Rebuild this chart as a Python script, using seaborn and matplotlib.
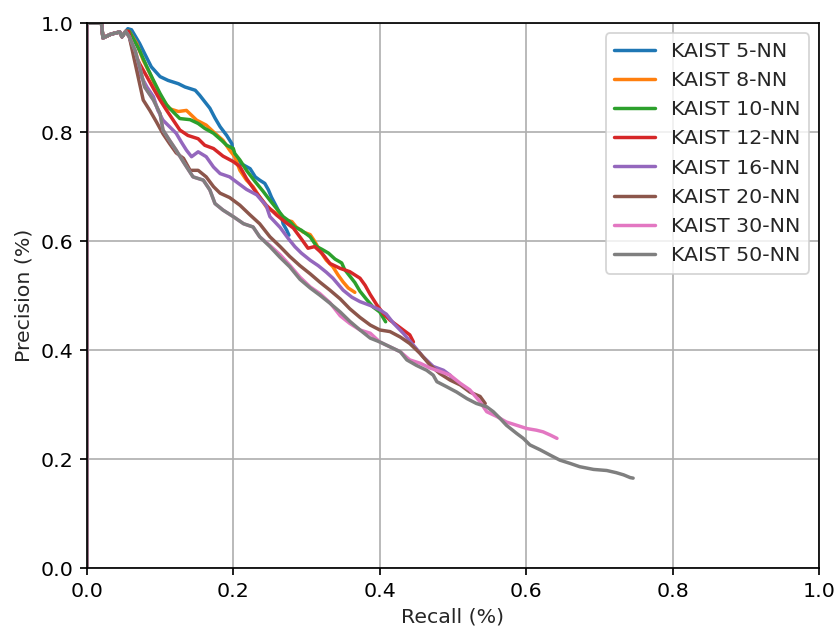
import numpy as np
import pandas as pd
import matplotlib
matplotlib.use("Agg")
import matplotlib.pyplot as plt
import seaborn as sns

labels = ["KAIST 5-NN", "KAIST 8-NN", "KAIST 10-NN", "KAIST 12-NN",
          "KAIST 16-NN", "KAIST 20-NN", "KAIST 30-NN", "KAIST 50-NN"]

start_r = [0.0, 0.0, 0.02, 0.022, 0.033, 0.045, 0.048, 0.053]
start_p = [0.0, 1.0, 1.0, 0.973, 0.980, 0.984, 0.975, 0.985]

r5 = [0.056, 0.061, 0.072, 0.079, 0.088, 0.100, 0.111, 0.125, 0.134, 0.148, 0.154, 0.161, 0.168, 0.175, 0.182,
      0.191, 0.198, 0.200, 0.204, 0.211, 0.223, 0.230, 0.236, 0.243, 0.248, 0.252, 0.259, 0.266, 0.268, 0.273, 0.276]
p5 = [0.990, 0.988, 0.963, 0.944, 0.920, 0.902, 0.895, 0.889, 0.883, 0.877, 0.868, 0.856, 0.844, 0.826, 0.810,
      0.794, 0.779, 0.761, 0.755, 0.742, 0.733, 0.718, 0.712, 0.706, 0.694, 0.681, 0.663, 0.645, 0.632, 0.620, 0.611]

r8 = [0.058, 0.068, 0.077, 0.086, 0.095, 0.104, 0.113, 0.125, 0.136, 0.143, 0.150, 0.163, 0.175, 0.186, 0.195,
      0.202, 0.209, 0.218, 0.227, 0.236, 0.245, 0.259, 0.270, 0.280, 0.286, 0.295, 0.305, 0.311, 0.318, 0.327,
      0.336, 0.343, 0.350, 0.357, 0.366]
p8 = [0.985, 0.963, 0.932, 0.908, 0.880, 0.859, 0.843, 0.838, 0.840, 0.831, 0.822, 0.813, 0.798, 0.785, 0.767,
      0.755, 0.730, 0.712, 0.700, 0.681, 0.663, 0.651, 0.639, 0.636, 0.626, 0.617, 0.612, 0.600, 0.583, 0.565,
      0.553, 0.538, 0.525, 0.514, 0.506]

r10 = [0.058, 0.072, 0.082, 0.091, 0.100, 0.109, 0.118, 0.127, 0.141, 0.152, 0.161, 0.173, 0.184, 0.191, 0.200,
       0.202, 0.209, 0.218, 0.230, 0.241, 0.250, 0.259, 0.268, 0.277, 0.284, 0.293, 0.305, 0.314, 0.321, 0.330,
       0.339, 0.348, 0.352, 0.359, 0.366, 0.373, 0.382, 0.391, 0.400, 0.408]
p10 = [0.985, 0.950, 0.920, 0.895, 0.871, 0.850, 0.837, 0.825, 0.823, 0.816, 0.807, 0.798, 0.785, 0.776, 0.770,
       0.761, 0.749, 0.730, 0.709, 0.691, 0.675, 0.660, 0.645, 0.636, 0.626, 0.620, 0.608, 0.590, 0.585, 0.578,
       0.567, 0.560, 0.548, 0.536, 0.524, 0.508, 0.493, 0.479, 0.470, 0.452]

r12 = [0.057, 0.063, 0.072, 0.082, 0.091, 0.100, 0.109, 0.118, 0.127, 0.138, 0.152, 0.161, 0.173, 0.186, 0.200,
       0.209, 0.218, 0.232, 0.245, 0.259, 0.270, 0.282, 0.293, 0.302, 0.311, 0.321, 0.332, 0.346, 0.359, 0.366,
       0.373, 0.380, 0.387, 0.396, 0.405, 0.414, 0.423, 0.432, 0.441, 0.446]
p12 = [0.985, 0.950, 0.926, 0.902, 0.880, 0.859, 0.840, 0.822, 0.804, 0.794, 0.788, 0.776, 0.770, 0.756, 0.746,
       0.737, 0.715, 0.688, 0.666, 0.648, 0.636, 0.624, 0.604, 0.587, 0.590, 0.578, 0.559, 0.550, 0.544, 0.538,
       0.532, 0.519, 0.502, 0.483, 0.467, 0.455, 0.446, 0.437, 0.428, 0.415]

r16 = [0.058, 0.072, 0.082, 0.091, 0.097, 0.104, 0.113, 0.122, 0.129, 0.136, 0.143, 0.152, 0.163, 0.173, 0.182,
       0.195, 0.207, 0.218, 0.232, 0.245, 0.250, 0.264, 0.275, 0.284, 0.293, 0.305, 0.316, 0.327, 0.336, 0.350,
       0.362, 0.373, 0.387, 0.400, 0.409, 0.419, 0.432, 0.446, 0.459, 0.473, 0.487, 0.496, 0.500]
p16 = [0.975, 0.908, 0.883, 0.865, 0.840, 0.822, 0.810, 0.798, 0.782, 0.767, 0.755, 0.764, 0.755, 0.736, 0.724,
       0.718, 0.706, 0.695, 0.685, 0.665, 0.645, 0.625, 0.605, 0.590, 0.578, 0.565, 0.555, 0.543, 0.532, 0.510,
       0.497, 0.489, 0.482, 0.474, 0.466, 0.449, 0.431, 0.409, 0.388, 0.370, 0.363, 0.354, 0.345]

r20 = [0.058, 0.077, 0.086, 0.095, 0.104, 0.113, 0.122, 0.132, 0.141, 0.152, 0.163, 0.173, 0.182, 0.195, 0.209,
       0.223, 0.236, 0.250, 0.264, 0.277, 0.291, 0.305, 0.318, 0.332, 0.346, 0.359, 0.373, 0.387, 0.400, 0.414,
       0.428, 0.441, 0.455, 0.469, 0.482, 0.496, 0.510, 0.523, 0.537, 0.544]
p20 = [0.975, 0.859, 0.840, 0.819, 0.797, 0.779, 0.762, 0.752, 0.730, 0.730, 0.718, 0.700, 0.688, 0.680, 0.666,
       0.648, 0.632, 0.608, 0.590, 0.572, 0.555, 0.540, 0.525, 0.510, 0.494, 0.476, 0.460, 0.446, 0.437, 0.434,
       0.424, 0.412, 0.394, 0.372, 0.357, 0.345, 0.336, 0.323, 0.315, 0.302]

r30 = [0.058, 0.066, 0.072, 0.079, 0.091, 0.100, 0.104, 0.113, 0.122, 0.132, 0.145, 0.159, 0.168, 0.175, 0.186,
       0.200, 0.214, 0.227, 0.236, 0.250, 0.264, 0.277, 0.291, 0.305, 0.318, 0.332, 0.346, 0.359, 0.373, 0.387,
       0.400, 0.414, 0.428, 0.441, 0.455, 0.469, 0.482, 0.496, 0.510, 0.523, 0.537, 0.546, 0.560, 0.573, 0.587,
       0.601, 0.614, 0.623, 0.633, 0.642]
p30 = [0.975, 0.950, 0.920, 0.883, 0.859, 0.834, 0.804, 0.785, 0.767, 0.745, 0.718, 0.712, 0.694, 0.669, 0.657,
       0.645, 0.632, 0.626, 0.608, 0.592, 0.575, 0.556, 0.534, 0.516, 0.504, 0.487, 0.463, 0.449, 0.437, 0.431,
       0.415, 0.406, 0.397, 0.382, 0.376, 0.367, 0.361, 0.354, 0.339, 0.327, 0.305, 0.287, 0.278, 0.268, 0.262,
       0.256, 0.253, 0.250, 0.244, 0.238]

r50 = [0.058, 0.066, 0.072, 0.079, 0.091, 0.100, 0.104, 0.113, 0.122, 0.132, 0.145, 0.159, 0.168, 0.175, 0.186,
       0.200, 0.214, 0.227, 0.236, 0.250, 0.264, 0.277, 0.291, 0.305, 0.318, 0.332, 0.346, 0.359, 0.373, 0.387,
       0.400, 0.414, 0.428, 0.437, 0.450, 0.464, 0.473, 0.478, 0.491, 0.505, 0.519, 0.532, 0.546, 0.555, 0.564,
       0.573, 0.587, 0.596, 0.605, 0.619, 0.633, 0.646, 0.660, 0.673, 0.692, 0.710, 0.723, 0.733, 0.742, 0.746]
p50 = [0.975, 0.950, 0.920, 0.883, 0.859, 0.834, 0.804, 0.785, 0.767, 0.745, 0.718, 0.712, 0.694, 0.669, 0.657,
       0.645, 0.632, 0.626, 0.608, 0.590, 0.570, 0.553, 0.530, 0.514, 0.501, 0.486, 0.470, 0.453, 0.437, 0.422,
       0.415, 0.406, 0.397, 0.382, 0.372, 0.363, 0.354, 0.342, 0.333, 0.323, 0.311, 0.302, 0.296, 0.287, 0.275,
       0.262, 0.247, 0.238, 0.226, 0.217, 0.207, 0.198, 0.192, 0.186, 0.181, 0.179, 0.175, 0.171, 0.166, 0.165]

recalls = [r5, r8, r10, r12, r16, r20, r30, r50]
precisions = [p5, p8, p10, p12, p16, p20, p30, p50]

frames = []
for lab, r, p in zip(labels, recalls, precisions):
    rr = start_r + r
    pp = start_p + p
    frames.append(pd.DataFrame({"recall": rr, "precision": pp, "series": lab,
                                "order": np.arange(len(rr))}))
df = pd.concat(frames, ignore_index=True)

sns.set_theme(style="ticks")
plt.rcParams['font.family'] = ['DejaVu Sans']
plt.rcParams['axes.edgecolor'] = 'black'
plt.rcParams['xtick.color'] = 'black'
plt.rcParams['ytick.color'] = 'black'

FS = 11.3
fig, ax = plt.subplots(figsize=(835/130.5, 628/130.5), dpi=130.5)
fig.subplots_adjust(left=0.104, right=0.981, top=0.963, bottom=0.0955)

sns.lineplot(data=df, x="recall", y="precision", hue="series", units="series",
             estimator=None, sort=False, palette="tab10", hue_order=labels,
             linewidth=1.9, ax=ax)

ax.set_xlim(0, 1)
ax.set_ylim(0, 1)
ax.set_xticks([0.0, 0.2, 0.4, 0.6, 0.8, 1.0])
ax.set_yticks([0.0, 0.2, 0.4, 0.6, 0.8, 1.0])
ax.grid(True, color="#b0b0b0", linewidth=0.95)
ax.set_xlabel("Recall (%)", fontsize=FS)
ax.set_ylabel("Precision (%)", fontsize=FS)
ax.tick_params(labelsize=FS, direction="out", length=4, width=0.95)
for s in ax.spines.values():
    s.set_linewidth(0.95)
    s.set_color("black")
ax.legend(loc="upper right", fontsize=FS, title=None, frameon=True,
          fancybox=True, framealpha=0.8, edgecolor="#cccccc")

fig.savefig("out.png", dpi=130.5)
